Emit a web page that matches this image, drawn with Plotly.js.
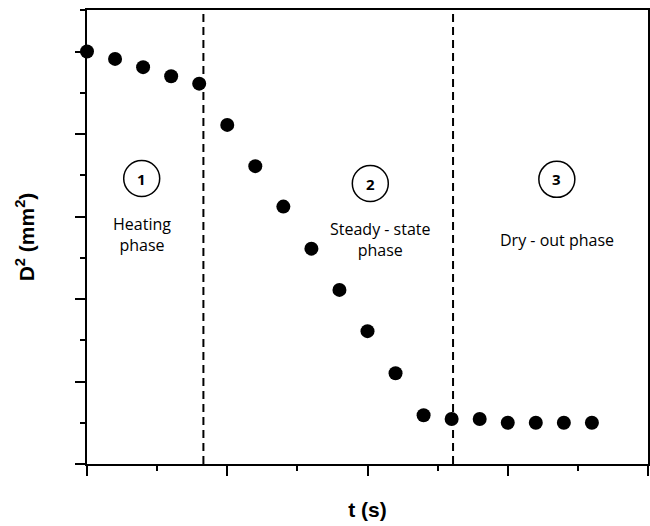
<!DOCTYPE html>
<html>
<head>
<meta charset="utf-8">
<script src="https://cdn.plot.ly/plotly-3.0.1.min.js"></script>
<style>html,body{margin:0;padding:0;background:#fff;}#chart{width:650px;height:526px;}</style>
</head>
<body>
<div id="chart"></div>
<script>
// Time (arbitrary units, major tick = 1)
const timeValues = [0, 0.2, 0.4, 0.6, 0.8, 1.0, 1.2, 1.4, 1.6, 1.8, 2.0, 2.2, 2.4, 2.6, 2.8, 3.0, 3.2, 3.4, 3.6];
// Squared droplet diameter (arbitrary units, major tick = 1)
const d2Values = [5.0, 4.91, 4.81, 4.70, 4.61, 4.11, 3.61, 3.12, 2.61, 2.11, 1.61, 1.10, 0.59, 0.545, 0.545, 0.50, 0.50, 0.50, 0.50];
// Phase boundaries (time)
const phaseBoundaries = [0.83, 2.61];
// Phase labels
const phaseNumbers = ['1', '2', '3'];
const phaseNumberX = [0.39, 2.02, 3.35];
const phaseNumberY = [3.46, 3.40, 3.45];
const phaseLabels = ['Heating<br>phase', 'Steady - state<br>phase', 'Dry - out phase'];
const phaseLabelX = [0.39, 2.09, 3.35];
const phaseLabelY = [2.78, 2.72, 2.72];

const fontFamily = '"Open Sans", "Noto Sans", sans-serif';
const titleFamily = 'Arial, "Liberation Sans", sans-serif';

const shapes = phaseBoundaries.map(b => ({
  type: 'line', xref: 'x', yref: 'paper', x0: b, x1: b, y0: 0, y1: 1,
  line: {color: '#000', width: 2, dash: '8px,5px'}, layer: 'below'
}));
phaseNumberX.forEach((x, i) => {
  shapes.push({
    type: 'circle', xref: 'x', yref: 'y', xsizemode: 'pixel', ysizemode: 'pixel',
    xanchor: x, yanchor: phaseNumberY[i], x0: -18, x1: 18, y0: -18, y1: 18,
    line: {color: '#000', width: 1.5}, fillcolor: 'rgba(0,0,0,0)'
  });
});

const annotations = [];
phaseNumbers.forEach((n, i) => {
  annotations.push({x: phaseNumberX[i], y: phaseNumberY[i], xref: 'x', yref: 'y', text: '<b>' + n + '</b>',
    showarrow: false, font: {family: fontFamily, size: 15, color: '#000'}});
});
phaseLabels.forEach((t, i) => {
  annotations.push({x: phaseLabelX[i], y: phaseLabelY[i], xref: 'x', yref: 'y', text: t,
    showarrow: false, font: {family: fontFamily, size: 16, color: '#000'}, align: 'center'});
});

const trace = {
  x: timeValues, y: d2Values, type: 'scatter', mode: 'markers',
  marker: {color: '#000', size: 14}, cliponaxis: false, hoverinfo: 'skip'
};

const layout = {
  width: 650, height: 526,
  margin: {l: 87, r: 2, t: 10, b: 62},
  paper_bgcolor: '#fff', plot_bgcolor: '#fff',
  showlegend: false,
  font: {family: titleFamily, color: '#000'},
  xaxis: {
    range: [0, 4], dtick: 1, tick0: 0, ticks: 'outside', ticklen: 10, tickwidth: 2, tickcolor: '#000',
    showticklabels: false, showgrid: false, zeroline: false,
    showline: true, linecolor: '#000', linewidth: 2, mirror: true,
    minor: {dtick: 0.5, ticks: 'outside', ticklen: 5, tickwidth: 2, tickcolor: '#000', showgrid: false},
    title: {text: '<b>t (s)</b>', font: {size: 21, family: titleFamily}, standoff: 27}
  },
  yaxis: {
    range: [0, 5.503], dtick: 1, tick0: 0, ticks: 'outside', ticklen: 10, tickwidth: 2, tickcolor: '#000',
    showticklabels: false, showgrid: false, zeroline: false,
    showline: true, linecolor: '#000', linewidth: 2, mirror: true,
    minor: {dtick: 0.5, ticks: 'outside', ticklen: 5, tickwidth: 2, tickcolor: '#000', showgrid: false},
    title: {text: '<b>D<sup>2</sup> (mm<sup>2</sup>)</b>', font: {size: 21, family: titleFamily}, standoff: 35}
  },
  shapes: shapes,
  annotations: annotations
};

Plotly.newPlot('chart', [trace], layout, {displayModeBar: false, staticPlot: true});
</script>
</body>
</html>
